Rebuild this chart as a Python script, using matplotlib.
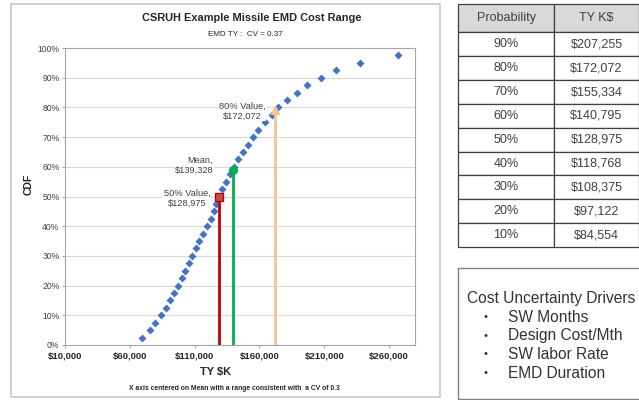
import numpy as np
import matplotlib
matplotlib.use('Agg')
import matplotlib.pyplot as plt
from matplotlib.patches import Rectangle
from matplotlib.ticker import FuncFormatter

plt.rcParams['font.family'] = ['Liberation Sans', 'DejaVu Sans']

# datos (CDF vs costo)
cdf = [0.025, 0.05, 0.075, 0.10, 0.125, 0.15, 0.175, 0.20, 0.225, 0.25,
       0.275, 0.30, 0.325, 0.35, 0.375, 0.40, 0.425, 0.45, 0.475, 0.50,
       0.525, 0.55, 0.575, 0.60, 0.625, 0.65, 0.675, 0.70, 0.725, 0.75,
       0.775, 0.80, 0.825, 0.85, 0.875, 0.90, 0.925, 0.95, 0.975]
cost = [69100, 75600, 79700, 84400, 88000, 91000, 94100, 96900, 100000, 102600,
        105400, 108200, 111100, 113600, 116700, 119800, 122800, 124900, 126700, 128600,
        131100, 134200, 137300, 140600, 143700, 147600, 150900, 155300, 159200, 164300,
        169400, 174600, 181000, 188800, 197000, 207300, 219100, 237600, 266900]

mean_val, mean_cdf = 139328, 0.59
p50_val, p50_cdf = 128975, 0.50
p80_val, p80_cdf = 172072, 0.79

xticks = [10000, 60000, 110000, 160000, 210000, 260000]

tab_prob = ['90%', '80%', '70%', '60%', '50%', '40%', '30%', '20%', '10%']
tab_cost = ['$207,255', '$172,072', '$155,334', '$140,795', '$128,975',
            '$118,768', '$108,375', '$97,122', '$84,554']

drivers = ['SW Months', 'Design Cost/Mth', 'SW labor Rate', 'EMD Duration']

W, H = 639, 400
def fx(px):
    return px / W
def fy(py):
    return 1 - py / H

fig = plt.figure(figsize=(6.39, 4.0), dpi=100)

# marco del grafico
fig.patches.append(Rectangle((fx(11), fy(397)), fx(440) - fx(11), fy(4) - fy(397),
                             transform=fig.transFigure, fill=False,
                             edgecolor='#c8c8c8', lw=1.2))

ax = fig.add_axes([fx(65), fy(345), fx(415) - fx(65), fy(48) - fy(345)])
ax.set_xlim(10000, 280000)
ax.set_ylim(0, 1)
ax.set_yticks(np.arange(0, 1.01, 0.1))
ax.set_xticks(xticks)
ax.yaxis.set_major_formatter(FuncFormatter(lambda v, p: '%d%%' % round(v * 100)))
ax.xaxis.set_major_formatter(FuncFormatter(lambda v, p: '${:,.0f}'.format(v)))
ax.grid(axis='y', color='#d9d9d9', lw=0.8)
ax.set_axisbelow(True)
for s in ax.spines.values():
    s.set_color('#a6a6a6')
    s.set_linewidth(0.8)
ax.tick_params(axis='y', labelsize=6.2, colors='#404040', length=2, color='#a6a6a6', pad=2)
ax.tick_params(axis='x', labelsize=6.8, colors='#262626', length=2, color='#a6a6a6', pad=3)
for t in ax.get_xticklabels():
    t.set_fontweight('bold')

ax.plot(cost, cdf, 'D', color='#4472c4', ms=3.7, mec='none', zorder=3)

ax.plot([p50_val, p50_val], [0, p50_cdf], color='#c00000', lw=2, zorder=4)
ax.plot([mean_val, mean_val], [0, mean_cdf], color='#00b050', lw=2, zorder=4)
ax.plot([p80_val, p80_val], [0, p80_cdf], color='#fac090', lw=2, zorder=4)
ax.plot([p50_val], [p50_cdf], 's', ms=5.5, mfc='#c0504d', mec='#c00000', zorder=5)
ax.plot([mean_val], [mean_cdf], 'o', ms=5.5, color='#00b050', zorder=5)
ax.plot([p80_val], [p80_cdf], '^', ms=5.5, color='#fac090', zorder=5)

bb = dict(facecolor='white', edgecolor='none', pad=0.5)
ax.text(146600, 0.788, '80% Value,\n$172,072', ha='center', va='center', fontsize=6.7,
        color='#404040', bbox=bb, zorder=6, linespacing=1.1)
ax.text(124200, 0.604, 'Mean,\n$139,328', ha='right', va='center', fontsize=6.7,
        color='#404040', bbox=bb, zorder=6, linespacing=1.1, multialignment='right')
ax.text(104100, 0.495, '50% Value,\n$128,975', ha='center', va='center', fontsize=6.7,
        color='#404040', bbox=bb, zorder=6, linespacing=1.1)

fig.text(fx(252), fy(18), 'CSRUH Example Missile EMD Cost Range', ha='center', va='center',
         fontsize=7.9, fontweight='bold', color='#262626')
fig.text(fx(245), fy(35), 'EMD TY :  CV = 0.37', ha='center', va='center',
         fontsize=5.8, color='#262626')
fig.text(fx(29), fy(184), 'CDF', ha='center', va='center', rotation=90,
         fontsize=7.5, fontweight='bold', color='#262626')
fig.text(fx(216), fy(372), 'TY $K', ha='center', va='center',
         fontsize=8, fontweight='bold', color='#262626')
fig.text(fx(234), fy(388), 'X axis centered on Mean with a range consistent with  a CV of 0.3',
         ha='center', va='center', fontsize=4.9, fontweight='bold', color='#262626')

# tabla de percentiles
tax = fig.add_axes([fx(458), fy(247), fx(639) - fx(458), fy(4) - fy(247)])
tax.axis('off')
cells = [[p, c] for p, c in zip(tab_prob, tab_cost)]
tb = tax.table(cellText=cells, colLabels=['Probability', 'TY K$'], cellLoc='center',
               colWidths=[96 / 181, 85 / 181], bbox=[0, 0, 1, 1])
tb.auto_set_font_size(False)
for (r, c), cell in tb.get_celld().items():
    cell.set_edgecolor('#404040')
    cell.set_linewidth(0.9)
    cell.get_text().set_fontsize(9)
    cell.get_text().set_color('#404040')
    if r == 0:
        cell.set_facecolor('#d9d9d9')
        cell.set_height(26)
    else:
        cell.set_height(21.8)

# cuadro de causas de incertidumbre
fig.patches.append(Rectangle((fx(458), fy(399)), fx(642) - fx(458), fy(268) - fy(399),
                             transform=fig.transFigure, fill=False,
                             edgecolor='#808080', lw=1))
fig.text(fx(467), fy(298), 'Cost Uncertainty Drivers', ha='left', va='center',
         fontsize=11.2, color='#333333')
for i, d in enumerate(drivers):
    yy = 317 + i * 18.7
    fig.text(fx(486), fy(yy), '\u2022', ha='center', va='center', fontsize=8, color='#333333')
    fig.text(fx(508), fy(yy), d, ha='left', va='center', fontsize=11.2, color='#333333')

fig.savefig('out.png', dpi=100)
